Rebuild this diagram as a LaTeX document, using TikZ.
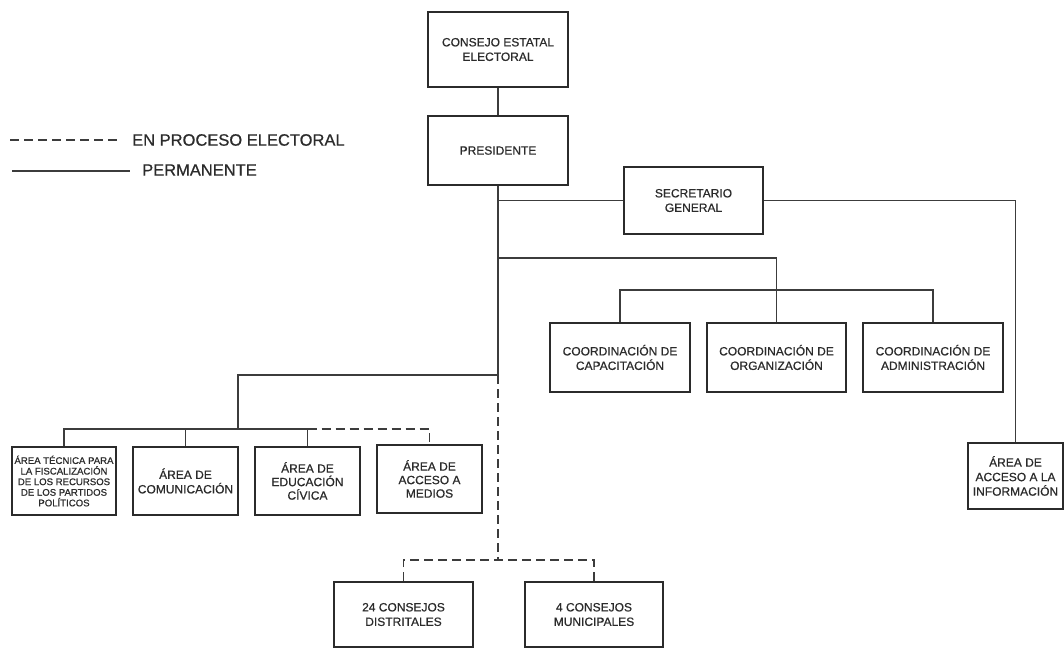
\documentclass[tikz,border=0pt]{standalone}
\usepackage{fontspec}
\setmainfont{Liberation Sans}
\newfontfamily\scanfont[FakeBold=0.6]{Liberation Sans}
\definecolor{ink}{HTML}{2B2B2B}
\definecolor{wire}{HTML}{3C3C3C}
\tikzset{
  orgbox/.style={draw=ink, line width=1.7pt, rectangle, inner sep=1pt, align=center,
    text=ink, font=\scanfont\fontsize{12}{14.5}\selectfont},
  smallbox/.style={orgbox, font=\scanfont\fontsize{9.6}{10.6}\selectfont},
  wirel/.style={draw=wire, line width=1.1pt},
  dashwire/.style={wirel, dash pattern=on 9pt off 5pt},
  legtext/.style={text=ink, font=\scanfont\fontsize{16.5}{18}\selectfont, anchor=west, inner sep=0pt}
}
\begin{document}
\begin{tikzpicture}[x=1pt,y=-1pt]
\useasboundingbox (0,0) rectangle (1064,650);
\fill[white] (0,0) rectangle (1064,650);

% legend
\coordinate (lda) at (10,140);
\coordinate (ldb) at (120,140);
\coordinate (lsa) at (12,171);
\coordinate (lsb) at (130,171);
\draw[dashwire] (lda) -- (ldb);
\draw[wirel] (lsa) -- (lsb);
\node[legtext] (ltd) at (132,140) {EN PROCESO ELECTORAL};
\node[legtext] (lts) at (142,170) {PERMANENTE};

% boxes
\node[orgbox, minimum width=140pt, minimum height=75pt] (cee) at (498,49.5) {CONSEJO ESTATAL\\ELECTORAL};
\node[orgbox, minimum width=140pt, minimum height=69pt] (pres) at (498,150.5) {PRESIDENTE};
\node[orgbox, minimum width=139pt, minimum height=67pt] (sec) at (693.5,200.5) {SECRETARIO\\GENERAL};
\node[orgbox, minimum width=140pt, minimum height=69pt] (cap) at (620,357.5) {COORDINACIÓN DE\\CAPACITACIÓN};
\node[orgbox, minimum width=139pt, minimum height=69pt] (org) at (776.5,357.5) {COORDINACIÓN DE\\ORGANIZACIÓN};
\node[orgbox, minimum width=140pt, minimum height=69pt] (adm) at (933,357.5) {COORDINACIÓN DE\\ADMINISTRACIÓN};
\node[orgbox, minimum width=95pt, minimum height=66pt] (info) at (1015.5,476) {ÁREA DE\\ACCESO A LA\\INFORMACIÓN};
\node[smallbox, minimum width=104pt, minimum height=68pt] (tec) at (64,481) {ÁREA TÉCNICA PARA\\LA FISCALIZACIÓN\\DE LOS RECURSOS\\DE LOS PARTIDOS\\POLÍTICOS};
\node[orgbox, minimum width=105pt, minimum height=68pt] (com) at (185.5,481) {ÁREA DE\\COMUNICACIÓN};
\node[orgbox, minimum width=105pt, minimum height=68pt, font=\scanfont\fontsize{12}{13.5}\selectfont] (edu) at (307.5,481) {ÁREA DE\\EDUCACIÓN\\CÍVICA};
\node[orgbox, minimum width=105pt, minimum height=68pt, font=\scanfont\fontsize{12}{13.5}\selectfont] (med) at (429.5,479) {ÁREA DE\\ACCESO A\\MEDIOS};
\node[orgbox, minimum width=139pt, minimum height=65pt] (c24) at (403.5,614.5) {24 CONSEJOS\\DISTRITALES};
\node[orgbox, minimum width=138pt, minimum height=65pt] (c4) at (594,614.5) {4 CONSEJOS\\MUNICIPALES};

% junction coordinates
\coordinate (j1) at (498,375);
\coordinate (j2) at (498,560);
\coordinate (cb1) at (0,258);
\coordinate (cb2) at (0,290);
\coordinate (ab) at (238,429);

% connectors
\draw[wirel] (cee.south) -- (pres.north);
\draw[wirel] (pres.south) -- (j1);
\draw[wirel] (sec.west) -- (sec.west -| pres.south);
\draw[wirel] (sec.east) -| (info.north);
\draw[wirel] (org.north) -- (org.north |- cb1) -- (cb1 -| pres.south);
\draw[wirel] (cap.north) -- (cap.north |- cb2) -- (adm.north |- cb2) -- (adm.north);
\draw[wirel] (j1) -- (j1 -| ab) -- (ab);
\draw[wirel] (tec.north) -- (tec.north |- ab) -- (edu.north |- ab) -- (edu.north);
\draw[wirel] (com.north) -- (com.north |- ab);
\draw[dashwire] (edu.north |- ab) -- (med.north |- ab) -- (med.north);
\draw[dashwire] (j1) -- (j2);
\draw[dashwire] (c24.north) -- (c24.north |- j2) -- (c4.north |- j2) -- (c4.north);
\end{tikzpicture}
\end{document}
